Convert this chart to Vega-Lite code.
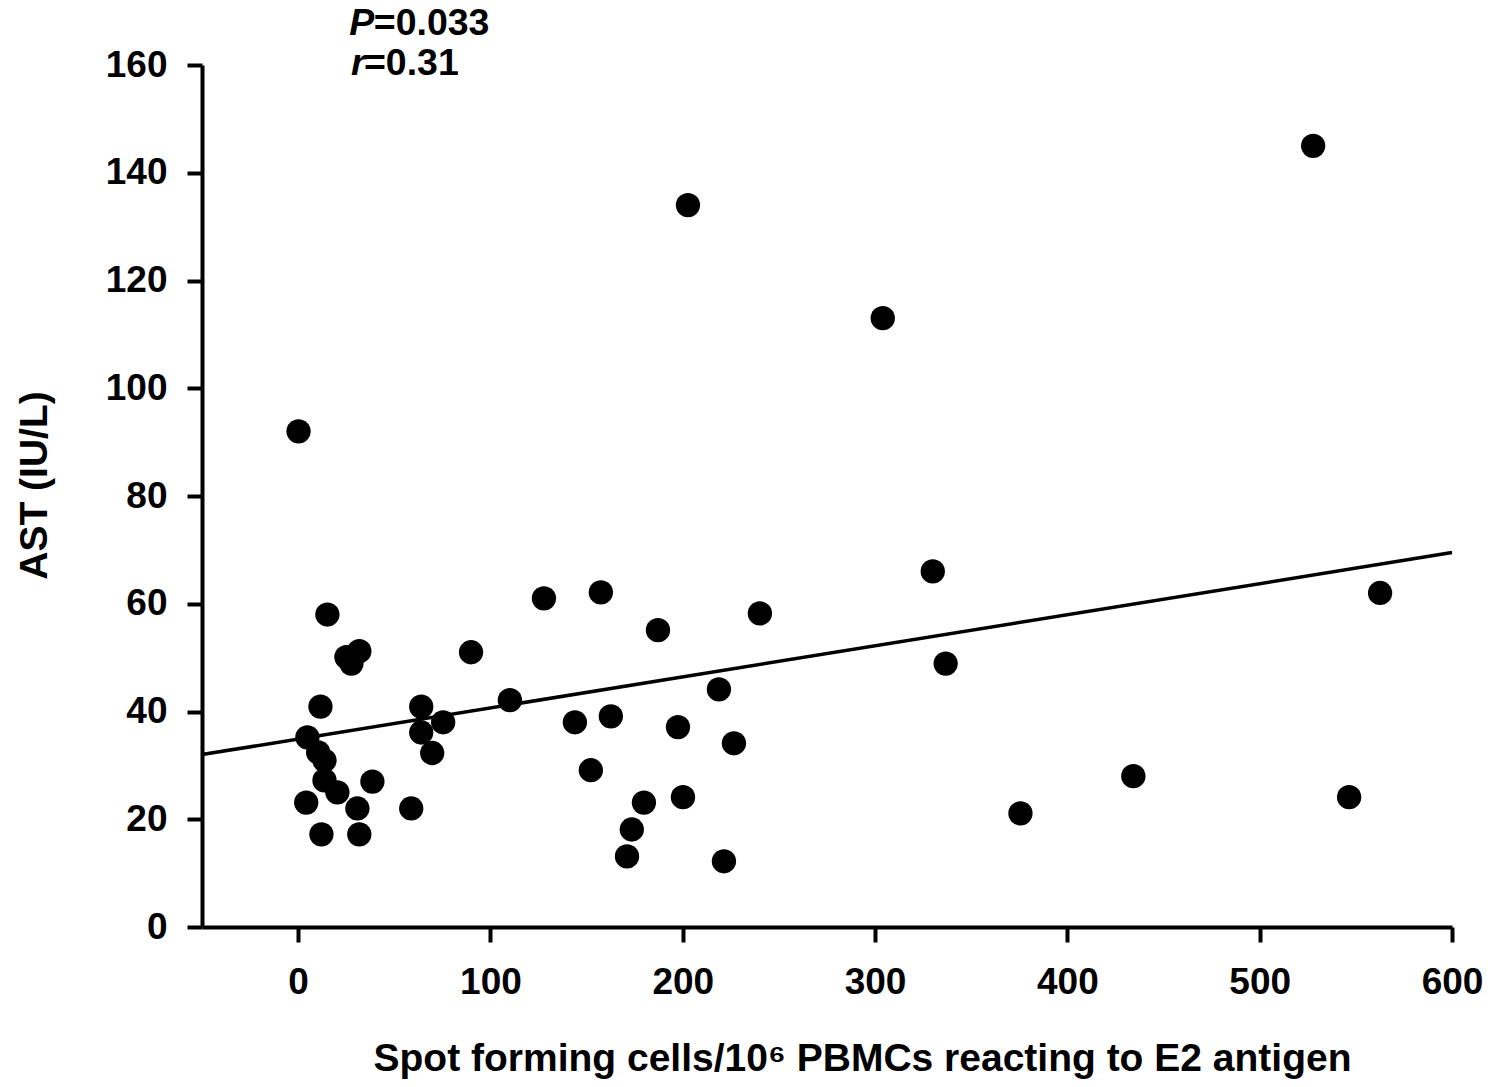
{
  "$schema": "https://vega.github.io/schema/vega-lite/v6.json",
  "width": 1250,
  "height": 862,
  "autosize": {"type": "none"},
  "padding": {"left": 202, "top": 65, "right": 41, "bottom": 160},
  "background": "white",
  "config": {
    "view": {"stroke": null},
    "font": "Liberation Sans",
    "axis": {
      "grid": false,
      "domainColor": "black",
      "domainWidth": 4,
      "tickColor": "black",
      "tickWidth": 4,
      "tickSize": 15,
      "labelColor": "black",
      "labelFont": "Liberation Sans",
      "labelFontWeight": "bold",
      "labelFontSize": 37,
      "labelFlush": false,
      "labelOverlap": false,
      "titleColor": "black",
      "titleFont": "Liberation Sans",
      "titleFontWeight": "bold",
      "titleFontSize": 39
    }
  },
  "datasets": {
    "pts": [
      {"x": 0.2, "y": 92.0}, {"x": 4.8, "y": 35.2}, {"x": 4.2, "y": 23.1}, {"x": 10.4, "y": 32.4},
      {"x": 11.6, "y": 40.9}, {"x": 15.2, "y": 58.0}, {"x": 13.7, "y": 30.9}, {"x": 13.7, "y": 27.2},
      {"x": 12.1, "y": 17.2}, {"x": 20.4, "y": 25.0}, {"x": 25.1, "y": 50.1}, {"x": 27.7, "y": 48.9},
      {"x": 31.8, "y": 51.2}, {"x": 30.8, "y": 22.0}, {"x": 31.8, "y": 17.2}, {"x": 38.6, "y": 27.0},
      {"x": 58.8, "y": 22.0}, {"x": 64.0, "y": 40.9}, {"x": 64.0, "y": 36.1}, {"x": 75.4, "y": 38.0},
      {"x": 69.7, "y": 32.3}, {"x": 89.9, "y": 51.0}, {"x": 110.1, "y": 42.1}, {"x": 127.8, "y": 61.0},
      {"x": 143.9, "y": 38.0}, {"x": 152.2, "y": 29.1}, {"x": 157.4, "y": 62.1}, {"x": 162.6, "y": 39.1},
      {"x": 171.0, "y": 13.1}, {"x": 173.5, "y": 18.1}, {"x": 179.8, "y": 23.1}, {"x": 187.1, "y": 55.1},
      {"x": 197.5, "y": 37.1}, {"x": 200.1, "y": 24.1}, {"x": 202.7, "y": 134.0}, {"x": 218.8, "y": 44.1},
      {"x": 221.4, "y": 12.2}, {"x": 226.6, "y": 34.1}, {"x": 240.1, "y": 58.2}, {"x": 304.0, "y": 113.0},
      {"x": 330.0, "y": 66.0}, {"x": 336.7, "y": 48.9}, {"x": 375.6, "y": 21.1}, {"x": 434.3, "y": 28.0},
      {"x": 527.8, "y": 145.0}, {"x": 546.5, "y": 24.1}, {"x": 562.6, "y": 62.0}
    ],
    "fit": [{"x": -50, "y": 32.0}, {"x": 600, "y": 69.5}],
    "annItalic": [{"x": 26.6, "y": 165.6, "t": "P"}, {"x": 27.5, "y": 158.2, "t": "r"}],
    "annRest": [{"x": 39.3, "y": 165.6, "t": "=0.033"}, {"x": 34.2, "y": 158.2, "t": "=0.31"}]
  },
  "encoding": {
    "x": {
      "field": "x",
      "type": "quantitative",
      "scale": {"domain": [-50, 600], "nice": false, "zero": false},
      "axis": {
        "values": [0, 100, 200, 300, 400, 500, 600],
        "labelPadding": 22,
        "title": "Spot forming cells/10⁶ PBMCs reacting to E2 antigen",
        "titleX": 660,
        "titleY": 143,
        "titleAlign": "center",
        "titleBaseline": "alphabetic",
        "titleAnchor": null
      }
    },
    "y": {
      "field": "y",
      "type": "quantitative",
      "scale": {"domain": [0, 160], "nice": false},
      "axis": {
        "values": [0, 20, 40, 60, 80, 100, 120, 140, 160],
        "labelPadding": 20,
        "title": "AST (IU/L)",
        "titleX": -156,
        "titleY": 420,
        "titleAlign": "center",
        "titleBaseline": "alphabetic",
        "titleAngle": -90
      }
    }
  },
  "layer": [
    {
      "data": {"name": "fit"},
      "mark": {"type": "line", "color": "black", "strokeWidth": 3.5}
    },
    {
      "data": {"name": "pts"},
      "mark": {"type": "circle", "color": "black", "opacity": 1, "size": 590}
    },
    {
      "data": {"name": "annItalic"},
      "mark": {"type": "text", "align": "left", "baseline": "alphabetic", "fontSize": 37.5, "fontWeight": "bold", "fontStyle": "italic", "color": "black", "font": "Liberation Sans"},
      "encoding": {"text": {"field": "t"}}
    },
    {
      "data": {"name": "annRest"},
      "mark": {"type": "text", "align": "left", "baseline": "alphabetic", "fontSize": 37.5, "fontWeight": "bold", "color": "black", "font": "Liberation Sans"},
      "encoding": {"text": {"field": "t"}}
    }
  ]
}
